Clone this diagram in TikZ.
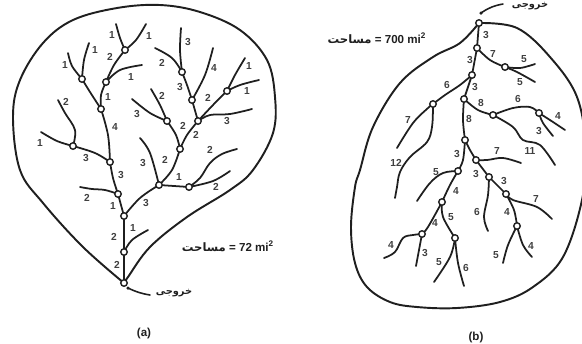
\documentclass[tikz,border=0pt]{standalone}
\usepackage{fontspec}
\setmainfont{Liberation Sans}
\newfontfamily\arabicfont[Script=Arabic]{DejaVu Sans}
\TeXXeTstate=1
\usetikzlibrary{backgrounds}
\definecolor{ink}{gray}{0.12}
\tikzset{
  stream/.style={draw=ink,line width=1.0pt,line cap=round,line join=round},
  basin/.style={draw=ink,line width=1.1pt,line join=round},
  junction/.style={circle,draw=ink,fill=white,line width=0.8pt,inner sep=0pt,minimum size=0.13cm},
  lab/.style={text=ink!85,font=\fontsize{5.8}{6}\selectfont\bfseries,inner sep=0pt},
  captext/.style={text=ink,font=\fontsize{6.6}{7}\selectfont\bfseries,inner sep=0pt},
  outtext/.style={text=ink,font=\fontsize{5.6}{6}\selectfont\bfseries,inner sep=0pt},
  leader/.style={draw=ink,line width=0.9pt,line cap=round}
}
\newcommand{\riv}[1]{\draw[stream] plot[smooth,tension=0.6] coordinates {#1};}
\begin{document}
\begin{tikzpicture}[x=0.02cm,y=-0.02cm]
\useasboundingbox (0,0) rectangle (582,343);
\clip (0,0) rectangle (582,343);
% ---------- (a) junctions
\foreach \n/\x/\y in {n1/124/283,n2/124/252,n3/124/216,n4/118/194,n5/110/162,n6/101/109,n7/82/79,n8/106/82,n9/125/50,n10/73/146,n11/159/185,n12/189/187,n13/180/149,n14/167/121,n15/198/121,n16/192/100,n17/182/72,n18/227/91}
  \node[junction] (\n) at (\x,\y) {};
% ---------- (b) junctions
\foreach \n/\x/\y in {a0/479/23,a1/477/48,a2/472/75,a3/464/99,a4/433/104,a5/505/67,a6/493/115,a7/539/113,a8/465/140,a9/476/160,a10/458/171,a11/489/177,a12/506/194,a13/442/202,a14/422/234,a15/455/238,a16/517/226}
  \node[junction] (\n) at (\x,\y) {};
\begin{scope}[on background layer]
% basin outlines
\draw[basin] plot[smooth,tension=0.6] coordinates {(n1.center) (83,247) (43,203) (20,170) (13,117) (20,80) (43,43) (73,20) (117,8) (160,5) (200,12) (240,30) (267,60) (275,97) (273,133) (253,170) (230,190) (187,217) (150,247) (128,277) (n1.center)};
\draw[basin] plot[smooth,tension=0.6] coordinates {(a0.center) (517,28) (550,57) (577,97) (586,150) (582,200) (563,257) (533,287) (500,302) (457,308) (417,307) (390,302) (367,287) (355,263) (351,227) (355,187) (360,170) (373,127) (400,83) (433,57) (460,43) (a0.center)};
% (a) streams
\riv{(n1.center) (n2.center)}
\riv{(n2.center) (124,235) (n3.center)}
\riv{(n2.center) (132,240) (148,230)}
\riv{(n3.center) (n4.center)}
\riv{(n4.center) (113,178) (n5.center)}
\riv{(n5.center) (108,135) (n6.center)}
\riv{(n6.center) (90,92) (n7.center)}
\riv{(n7.center) (72,66) (68,53)}
\riv{(n7.center) (84,60) (89,43)}
\riv{(n6.center) (101,95) (n8.center)}
\riv{(n8.center) (114,65) (n9.center)}
\riv{(n9.center) (120,38) (116,24)}
\riv{(n9.center) (136,40) (146,24)}
\riv{(n8.center) (120,70) (142,65)}
\riv{(n5.center) (95,153) (n10.center)}
\riv{(n10.center) (57,141) (41,132)}
\riv{(n10.center) (75,130) (65,113) (58,100)}
\riv{(n4.center) (105,190) (92,189) (80,187)}
\riv{(n3.center) (140,198) (n11.center)}
\riv{(n11.center) (n12.center)}
\riv{(n12.center) (200,178) (210,163) (222,154) (237,149)}
\riv{(n12.center) (213,181) (230,171)}
\riv{(n11.center) (150,153) (140,138)}
\riv{(n11.center) (172,170) (n13.center)}
\riv{(n13.center) (176,135) (n14.center)}
\riv{(n14.center) (160,105) (151,89)}
\riv{(n14.center) (150,113) (132,99)}
\riv{(n13.center) (187,135) (n15.center)}
\riv{(n15.center) (n16.center)}
\riv{(n16.center) (187,85) (n17.center)}
\riv{(n17.center) (180,50) (181,28)}
\riv{(n17.center) (172,58) (155,48)}
\riv{(n16.center) (205,75) (213,48)}
\riv{(n15.center) (213,105) (n18.center)}
\riv{(n18.center) (235,75) (245,58)}
\riv{(n18.center) (240,85) (259,80)}
\riv{(n15.center) (210,115) (230,114) (252,109)}
% (b) streams
\riv{(a0.center) (a1.center)}
\riv{(a1.center) (a2.center)}
\riv{(a2.center) (a3.center)}
\riv{(a3.center) (463,120) (a8.center)}
\riv{(a8.center) (463,160) (a10.center)}
\riv{(a8.center) (470,150) (a9.center)}
\riv{(a9.center) (a11.center)}
\riv{(a11.center) (a12.center)}
\riv{(a12.center) (514,210) (a16.center)}
\riv{(a16.center) (508,245) (503,263)}
\riv{(a16.center) (523,245) (532,257)}
\riv{(a12.center) (513,200) (537,207) (552,219)}
\riv{(a11.center) (488,195) (484,217) (488,231)}
\riv{(a9.center) (487,160) (503,158) (521,163)}
\riv{(a10.center) (443,173) (430,183) (417,201)}
\riv{(a10.center) (450,185) (a13.center)}
\riv{(a13.center) (428,227) (a14.center)}
\riv{(a13.center) (443,217) (a15.center)}
\riv{(a14.center) (413,235) (403,238) (395,252) (384,258)}
\riv{(a14.center) (419,250) (416,266)}
\riv{(a15.center) (450,257) (434,282)}
\riv{(a15.center) (458,263) (464,286)}
\riv{(a4.center) (445,95) (460,85) (a2.center)}
\riv{(a4.center) (428,108) (413,123) (397,148)}
\riv{(a4.center) (433,108) (432,127) (427,142) (410,157) (400,172) (397,187) (395,198)}
\riv{(a3.center) (478,110) (a6.center)}
\riv{(a6.center) (513,108) (530,107) (a7.center)}
\riv{(a7.center) (553,122) (565,130)}
\riv{(a7.center) (543,123) (553,136)}
\riv{(a6.center) (513,127) (523,140) (540,145) (555,165)}
\riv{(a1.center) (490,60) (a5.center)}
\riv{(a5.center) (520,68) (535,64)}
\riv{(a5.center) (517,72) (535,82)}
\end{scope}
% stream order labels (a)
\foreach \x/\y/\t [count=\i] in {112/35/1,149/36/1,95/50/1,65/65/1,110/57/2,131/77/1,108/97/1,66/102/2,115/127/4,40/143/1,86/158/3,188/42/3,162/63/2,214/68/4,249/66/1,180/87/3,208/98/2,247/91/1,162/96/2,137/114/3,183/126/2,196/135/2,227/121/3,210/150/2,143/163/3,165/160/2,121/175/3,87/198/2,113/206/1,146/203/3,179/177/1,216/187/2,133/228/1,114/237/2,117/265/2}
  \node[lab] (p\i) at (\x,\y) {\t};
% stream order labels (b)
\foreach \x/\y/\t [count=\i] in {486/35/3,470/60/3,493/54/7,524/59/5,520/82/5,475/87/3,447/85/6,481/103/8,518/99/6,558/116/4,539/131/3,408/120/7,469/119/8,530/151/11,457/154/3,497/151/7,396/163/12,436/172/5,476/174/3,504/181/3,456/191/4,536/199/7,507/212/4,477/212/6,451/217/5,435/223/4,391/245/4,425/253/3,439/262/5,466/268/6,496/255/5,531/246/4}
  \node[lab] (q\i) at (\x,\y) {\t};
% captions
\node[captext] (areaA) at (228,246) {{\arabicfont\beginR مساحت\endR} = 72 mi\textsuperscript{2}};
\node[captext] (areaB) at (377,38) {{\arabicfont\beginR مساحت\endR} = 700 mi\textsuperscript{2}};
\node[outtext] (outA) at (174,293) {\arabicfont\beginR خروجی\endR};
\node[outtext] (outB) at (530,6) {\arabicfont\beginR خروجی\endR};
\node[captext] (subA) at (144,333) {(a)};
\node[captext] (subB) at (476,337) {(b)};
% outlet leaders
\coordinate (tipA) at (128,288);
\coordinate (tailA) at (150,295);
\coordinate (tipB) at (481,13);
\coordinate (tailB) at (503,4);
\draw[leader] (tailA) to[bend left=8] (tipA);
\draw[leader] (tailB) to[bend right=12] (tipB);
\fill[ink] (tipA) circle (0.035cm);
\fill[ink] (tipB) circle (0.035cm);
\end{tikzpicture}
\end{document}
